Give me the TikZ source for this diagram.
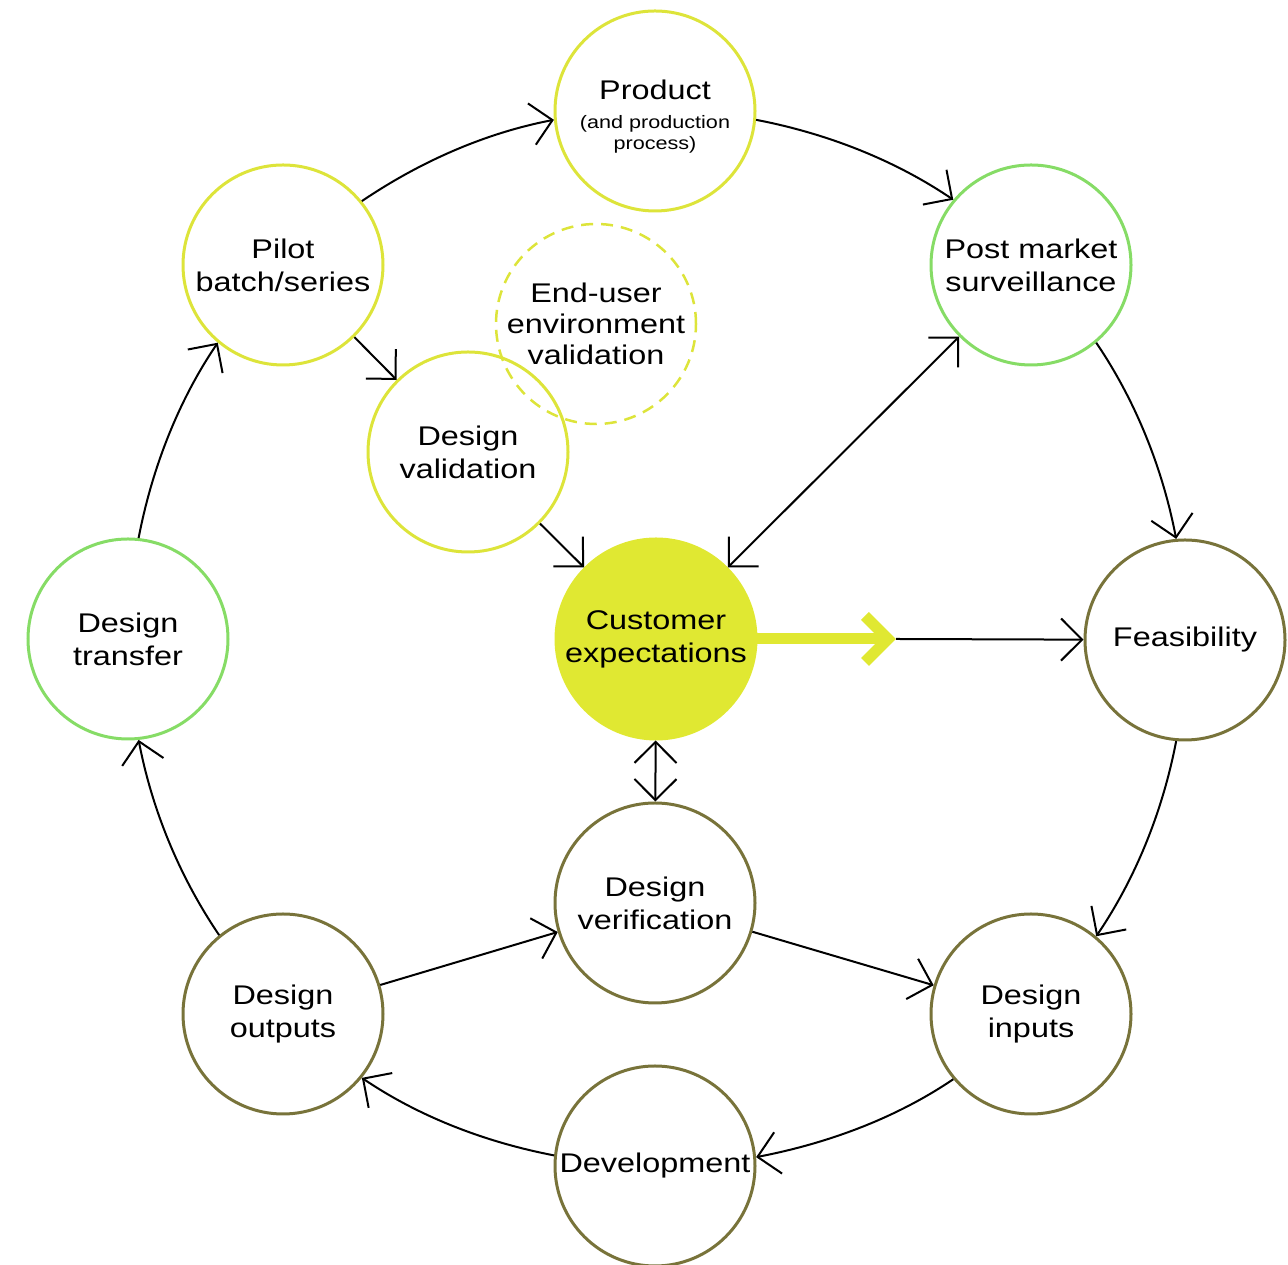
\documentclass[tikz,border=0pt]{standalone}
\usepackage{fontspec}
\setmainfont{Liberation Sans}[FakeStretch=1.2]
\usetikzlibrary{arrows.meta,calc}
\definecolor{ylw}{HTML}{DDE43A}
\definecolor{yfill}{HTML}{E0E832}
\definecolor{grn}{HTML}{86DC66}
\definecolor{olv}{HTML}{78733A}
\begin{document}
\begin{tikzpicture}[x=1pt,y=1pt,
  base/.style={circle, minimum size=200pt, inner sep=0pt, line width=3pt, align=center, font=\fontsize{27}{33}\selectfont},
  yelc/.style={base, draw=ylw},
  grnc/.style={base, draw=grn},
  olvc/.style={base, draw=olv},
  conn/.style={line width=2pt, -{Straight Barb[length=21pt,width=42pt]}},
  conntwo/.style={line width=2pt, {Straight Barb[length=21pt,width=42pt]}-{Straight Barb[length=21pt,width=42pt]}},
  ring/.style={conn, looseness=0.86},
]
\useasboundingbox (0,0) rectangle (1288,1265);

% nodes
\node[yelc, font=\fontsize{18}{21}\selectfont] (product) at (655,1154) {{\fontsize{27}{29}\selectfont\rule{0pt}{30pt}Product}\\[8pt](and production\\process)};
\node[yelc] (pilot) at (283,1000) {Pilot\\batch/series};
\node[grnc] (post) at (1031,1000) {Post market\\surveillance};
\node[base, draw=ylw, line width=2.5pt, dash pattern=on 12pt off 8pt, font=\fontsize{27}{31}\selectfont] (enduser) at (596,941) {End-user\\environment\\validation};
\node[yelc] (dval) at (468,813) {Design\\validation};
\node[base, fill=yfill, draw=yfill] (cust) at (656,626) {};
\node[grnc] (dtransfer) at (128,626) {Design\\transfer};
\node[olvc] (feas) at (1185,625) {Feasibility};
\node[olvc] (dverif) at (655,362) {Design\\verification};
\node[olvc] (doutputs) at (283,251) {Design\\outputs};
\node[olvc] (dinputs) at (1031,251) {Design\\inputs};
\node[olvc] (dev) at (655,99) {Development};

% outer ring connectors (arcs of one large circle)
\draw[ring] (pilot.39.5) to[out=34.13, in=190.87] (product.185.5);
\draw[ring] (product.-5.5) to[out=-10.87, in=145.87] (post.140.5);
\draw[ring] (post.-50.5) to[out=-55.87, in=100.87] (feas.95.5);
\draw[ring] (feas.-95.5) to[out=-100.87, in=55.87] (dinputs.50.5);
\draw[ring] (dinputs.-140.5) to[out=-145.87, in=10.87] (dev.5.5);
\draw[ring] (dev.174.5) to[out=169.13, in=-34.13] (doutputs.-39.5);
\draw[ring] (doutputs.129.5) to[out=124.13, in=-79.13] (dtransfer.-84.5);
\draw[ring] (dtransfer.84.5) to[out=79.13, in=235.87] (pilot.230.5);

% straight connectors
\draw[conn] (pilot) -- (dval);
\draw[conn] (dval) -- (cust);
\draw[conntwo] (post) -- (cust);
\draw[conntwo] (cust) -- (dverif);
\draw[conn] (doutputs) -- (dverif);
\draw[conn] (dverif) -- (dinputs);

% customer -> feasibility
\coordinate (ytip) at (896,626);
\draw[yfill, line width=11pt] (cust.center) -- ($(ytip)+(-9,0)$);
\draw[yfill, line width=11pt, miter limit=10] ($(ytip)+(-31,23)$) -- ($(ytip)+(-8,0)$) -- ($(ytip)+(-31,-23)$);
\node[font=\fontsize{27}{33}\selectfont, align=center] (custtext) at (cust) {Customer\\expectations};
\draw[conn] (ytip) -- (feas);
\end{tikzpicture}
\end{document}
